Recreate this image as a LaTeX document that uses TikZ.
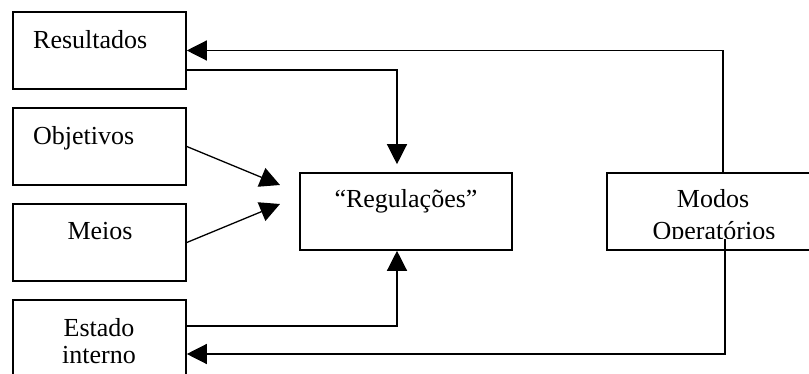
\documentclass[tikz,border=0pt]{standalone}
\usepackage{fontspec}
\setmainfont{Liberation Serif}
\usetikzlibrary{arrows.meta}
\tikzset{
  box/.style={draw, line width=1.6pt, minimum width=173pt, minimum height=77pt, inner sep=0pt},
  widebox/.style={box, minimum width=212pt},
  lbl/.style={inner sep=0pt, font=\fontsize{26pt}{30pt}\selectfont},
  conn/.style={line width=1.3pt},
  arr/.style={conn, -{Triangle[length=20pt,width=20pt]}},
}
\begin{document}
\begin{tikzpicture}[x=1pt,y=-1pt]
\useasboundingbox (0,0) rectangle (809,374);
\clip (0,0) rectangle (809,374);

% boxes
\node[box] (res) at (99.5,50.5) {};
\node[box] (obj) at (99.5,146.5) {};
\node[box] (mei) at (99.5,242.5) {};
\node[box] (est) at (99.5,338.5) {};
\node[widebox] (reg) at (406,211.5) {};
\node[widebox] (mod) at (713,211.5) {};

% labels
\node[lbl, anchor=base west] (tres) at (33,49) {Resultados};
\node[lbl, anchor=base west] (tobj) at (33,145) {Objetivos};
\node[lbl, anchor=base] (tmei) at (100,240) {Meios};
\node[lbl, anchor=base] (test1) at (99,336) {Estado};
\node[lbl, anchor=base] (test2) at (99,363) {interno};
\node[lbl, anchor=base] (treg) at (406,208) {“Regulações”};
\begin{scope}
  \clip (607,173) rectangle (819,239);
  \node[lbl, anchor=base] (tmod1) at (713,208) {Modos};
  \node[lbl, anchor=base] (tmod2) at (714,239.5) {Operatórios};
\end{scope}

% free ends of the connectors
\coordinate (tipobj) at (280,185);
\coordinate (tipmei) at (280,204);
\coordinate (modout) at (725,239);

% connectors
\draw[arr] ([xshift=10pt]mod.north) |- (res.east);
\draw[arr, shorten >=8pt] ([yshift=-19.5pt]res.east) -| ([xshift=-9pt]reg.north);
\draw[arr] (obj.east) -- (tipobj);
\draw[arr] (mei.east) -- (tipmei);
\draw[arr] ([yshift=12.5pt]est.east) -| ([xshift=-9pt]reg.south);
\draw[arr] (modout) |- ([yshift=-15.5pt]est.east);
\end{tikzpicture}
\end{document}
